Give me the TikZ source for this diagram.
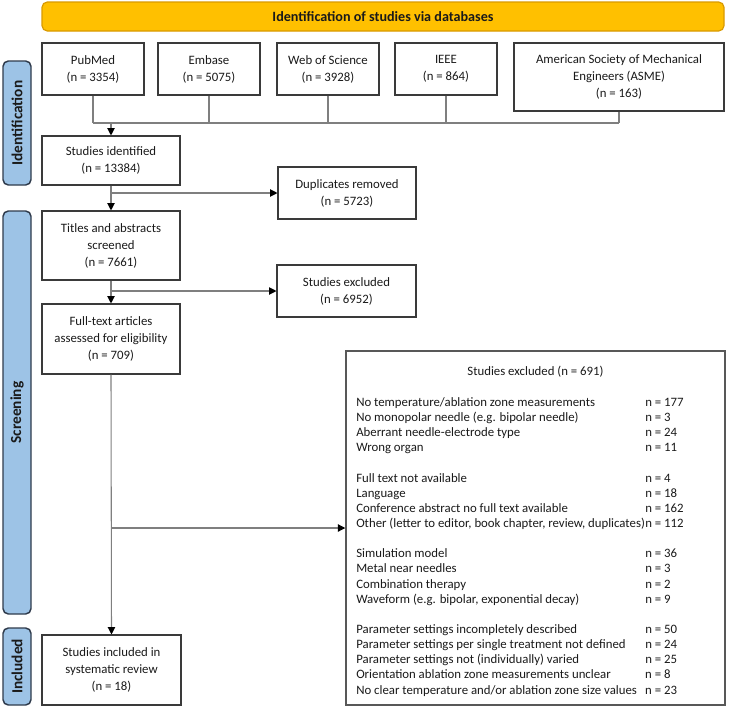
\documentclass[tikz,border=0pt]{standalone}
\usepackage{fontspec}
\setmainfont{Carlito}
\usetikzlibrary{arrows.meta,positioning}
\definecolor{bannerfill}{HTML}{FFC000}
\definecolor{bannerdraw}{HTML}{D99A00}
\definecolor{barfill}{HTML}{9DC3E6}
\definecolor{bardraw}{HTML}{2F3B4C}
\definecolor{conn}{HTML}{7F7F7F}
\definecolor{boxdraw}{HTML}{3A3A3A}
\definecolor{txt}{HTML}{1A1A1A}
\def\px{0.75pt}
\tikzset{
  box/.style={draw=boxdraw, line width=0.8pt, fill=white, align=center, inner sep=2pt,
    text=txt, font=\fontsize{9.6pt}{12.75pt}\selectfont},
  bar/.style={draw=bardraw, line width=1.1pt, fill=barfill, rounded corners=4pt, rotate=90,
    minimum height=28*\px, inner sep=0pt, font=\bfseries\fontsize{11.5pt}{13pt}\selectfont, text=txt},
  conline/.style={draw=conn, line width=0.8pt},
  arr/.style={draw=conn, line width=0.8pt, -{Triangle[length=5.5pt,width=5.5pt,color=black]}},
}
\begin{document}
\begin{tikzpicture}[x=0.75pt,y=-0.75pt]
\useasboundingbox (0,0) rectangle (732,707);
% banner
\node[draw=bannerdraw, line width=0.9pt, fill=bannerfill, rounded corners=4pt,
  minimum width=682*\px, minimum height=29*\px, inner sep=0pt,
  font=\bfseries\fontsize{10.6pt}{12pt}\selectfont, text=txt] (banner) at (383,16.5)
  {Identification of studies via databases};
% side bars
\node[bar, minimum width=124*\px] (barid) at (17,123) {Identification};
\node[bar, minimum width=403*\px] (barsc) at (17,412.5) {Screening};
\node[bar, minimum width=77*\px] (barin) at (17,666.5) {Included};
% databases
\node[box, minimum width=102*\px, minimum height=52*\px] (pub) at (93,69) {PubMed\\(n = 3354)};
\node[box, minimum width=102*\px, minimum height=52*\px] (emb) at (209,69) {Embase\\(n = 5075)};
\node[box, minimum width=102*\px, minimum height=52*\px] (wos) at (328,69) {Web of Science\\(n = 3928)};
\node[box, minimum width=102*\px, minimum height=52*\px] (ieee) at (446,69) {IEEE\\(n = 864)};
\node[box, minimum width=210*\px, minimum height=68*\px] (asme) at (619,77) {American Society of Mechanical\\Engineers (ASME)\\(n = 163)};
% main column
\node[box, minimum width=138*\px, minimum height=49*\px] (ident) at (111,160.5) {Studies identified\\(n = 13384)};
\node[box, minimum width=138*\px, minimum height=52*\px] (dup) at (347,193) {Duplicates removed\\(n = 5723)};
\node[box, minimum width=138*\px, minimum height=69*\px] (tit) at (111,245.5) {Titles and abstracts\\screened\\(n = 7661)};
\node[box, minimum width=139*\px, minimum height=52*\px] (exa) at (346.5,291) {Studies excluded\\(n = 6952)};
\node[box, minimum width=138*\px, minimum height=70*\px] (full) at (111,339) {Full-text articles\\assessed for eligibility\\(n = 709)};
\node[box, minimum width=139*\px, minimum height=70*\px] (incl) at (111.5,670) {Studies included in\\systematic review\\(n = 18)};
% big exclusion box
\node[draw=boxdraw!85, line width=1.1pt, fill=white, minimum width=379*\px, minimum height=354*\px, inner sep=0pt] (big) at (535.5,528) {};
\node[text=txt, font=\fontsize{9.6pt}{11.4pt}\selectfont, inner sep=0pt] (bigtitle) at (535.5,372) {Studies excluded (n = 691)};
\node[text=txt, font=\fontsize{9.6pt}{11.35pt}\selectfont, inner sep=0pt, anchor=base west] (biglist) at (356,406.5)
{\begin{tabular}[t]{@{}p{216.75pt}@{}l@{}}
No temperature/ablation zone measurements & n = 177\\
No monopolar needle (e.g. bipolar needle) & n = 3\\
Aberrant needle-electrode type & n = 24\\
Wrong organ & n = 11\\
 & \\
Full text not available & n = 4\\
Language & n = 18\\
Conference abstract no full text available & n = 162\\
Other (letter to editor, book chapter, review, duplicates) & n = 112\\
 & \\
Simulation model & n = 36\\
Metal near needles & n = 3\\
Combination therapy & n = 2\\
Waveform (e.g. bipolar, exponential decay) & n = 9\\
 & \\
Parameter settings incompletely described & n = 50\\
Parameter settings per single treatment not defined & n = 24\\
Parameter settings not (individually) varied & n = 25\\
Orientation ablation zone measurements unclear & n = 8\\
No clear temperature and/or ablation zone size values & n = 23
\end{tabular}};
% connectors
\coordinate (bus) at (0,123);
\draw[conline] (pub.south) -- (pub.south |- bus);
\draw[conline] (emb.south) -- (emb.south |- bus);
\draw[conline] (wos.south) -- (wos.south |- bus);
\draw[conline] (ieee.south) -- (ieee.south |- bus);
\draw[conline] (asme.south) -- (asme.south |- bus);
\draw[conline] (pub.south |- bus) -- (asme.south |- bus);
\draw[arr] (ident.north |- bus) -- (ident.north);
\draw[arr] (ident.south) -- (tit.north);
\draw[arr] (ident.south |- dup.west) -- (dup.west);
\draw[arr] (tit.south) -- (full.north);
\draw[arr] (tit.south |- exa.west) -- (exa.west);
\draw[arr] (full.south) -- (incl.north);
\draw[arr] (full.south |- big.west) -- (big.west);
\end{tikzpicture}
\end{document}
